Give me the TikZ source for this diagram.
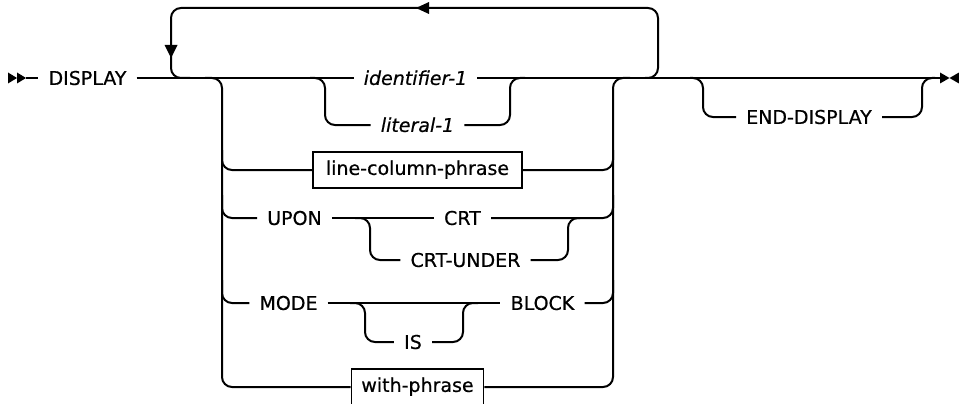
\documentclass[tikz,border=0pt]{standalone}
\usepackage{fontspec}
\setmainfont{DejaVu Sans}[FakeBold=0.6, ItalicFeatures={FakeBold=0.6}]
\begin{document}
\begin{tikzpicture}[x=1pt,y=-1pt,
  rail/.style={line width=2pt, rounded corners=10pt},
  kw/.style={font=\fontsize{19}{23}\selectfont, inner xsep=10pt, inner ysep=0pt, text height=13.85pt, text depth=0pt},
  var/.style={kw, font=\fontsize{19}{23}\selectfont\itshape},
  boxn/.style={draw, line width=1.5pt, font=\fontsize{19}{23}\selectfont, inner xsep=10pt, inner ysep=8.5pt, text height=14.4pt, text depth=4.6pt, fill=white}]
\useasboundingbox (0,0) rectangle (959,404);

% nodes
\node[kw] (display) at (87.5,78) {DISPLAY};
\node[var] (id1) at (415.5,78) {identifier-1};
\node[var] (lit1) at (417.5,125) {literal-1};
\node[boxn, inner xsep=13pt] (lcp) at (417.5,170) {line-column-phrase};
\node[kw] (upon) at (294.5,218) {UPON};
\node[kw] (crt) at (462.5,218) {CRT};
\node[kw] (crtu) at (465.5,260) {CRT-UNDER};
\node[kw] (mode) at (288.5,303) {MODE};
\node[kw] (is) at (413,342) {IS};
\node[kw] (block) at (542.5,303) {BLOCK};
\node[boxn] (with) at (417.5,387) {with-phrase};
\node[kw] (enddisp) at (809,117) {END-DISPLAY};

\coordinate (mstart) at (26,78);
\coordinate (mend) at (940,78);

% start / end markers
\fill (8,72.5) -- (17,78) -- (8,83.5) -- cycle;
\fill (17,72.5) -- (26,78) -- (17,83.5) -- cycle;
\fill (940,72.5) -- (949.5,78) -- (940,83.5) -- cycle;
\fill (959,72.5) -- (949.5,78) -- (959,83.5) -- cycle;

% main line
\draw[rail] (mstart) -- (display.west);
\draw[rail] (display.east) -- (id1.west);
\draw[rail] (id1.east) -- (mend);

% repeat loop
\draw[rail] (645,78) -| (658,8) -| (171,78) -- (190,78);
\fill (416,8) -- (429,2) -- (429,14) -- cycle;
\fill (171,58) -- (164.5,45) -- (177.5,45) -- cycle;

% outer choice
\draw[rail] (205,78) -| (222,387) -- (with.west);
\draw[rail] (222,150) |- (lcp.west);
\draw[rail] (222,195) |- (upon.west);
\draw[rail] (222,280) |- (mode.west);
\draw[rail] (with.east) -| (613,78) -- (630,78);
\draw[rail] (lcp.east) -| (613,150);
\draw[rail] (crt.east) -| (613,195);
\draw[rail] (block.east) -| (613,280);

% identifier / literal
\draw[rail] (310,78) -| (325,125) -- (lit1.west);
\draw[rail] (lit1.east) -| (510,78) -- (525,78);

% UPON row
\draw[rail] (upon.east) -- (crt.west);
\draw[rail] (355,218) -| (370,260) -- (crtu.west);
\draw[rail] (crtu.east) -| (568,218) -- (580,218);

% MODE row
\draw[rail] (mode.east) -- (block.west);
\draw[rail] (350,303) -| (365,342) -- (is.west);
\draw[rail] (is.east) -| (463,303) -- (478,303);

% END-DISPLAY
\draw[rail] (690,78) -| (703,117) -- (enddisp.west);
\draw[rail] (enddisp.east) -| (922,78) -- (935,78);
\end{tikzpicture}
\end{document}
